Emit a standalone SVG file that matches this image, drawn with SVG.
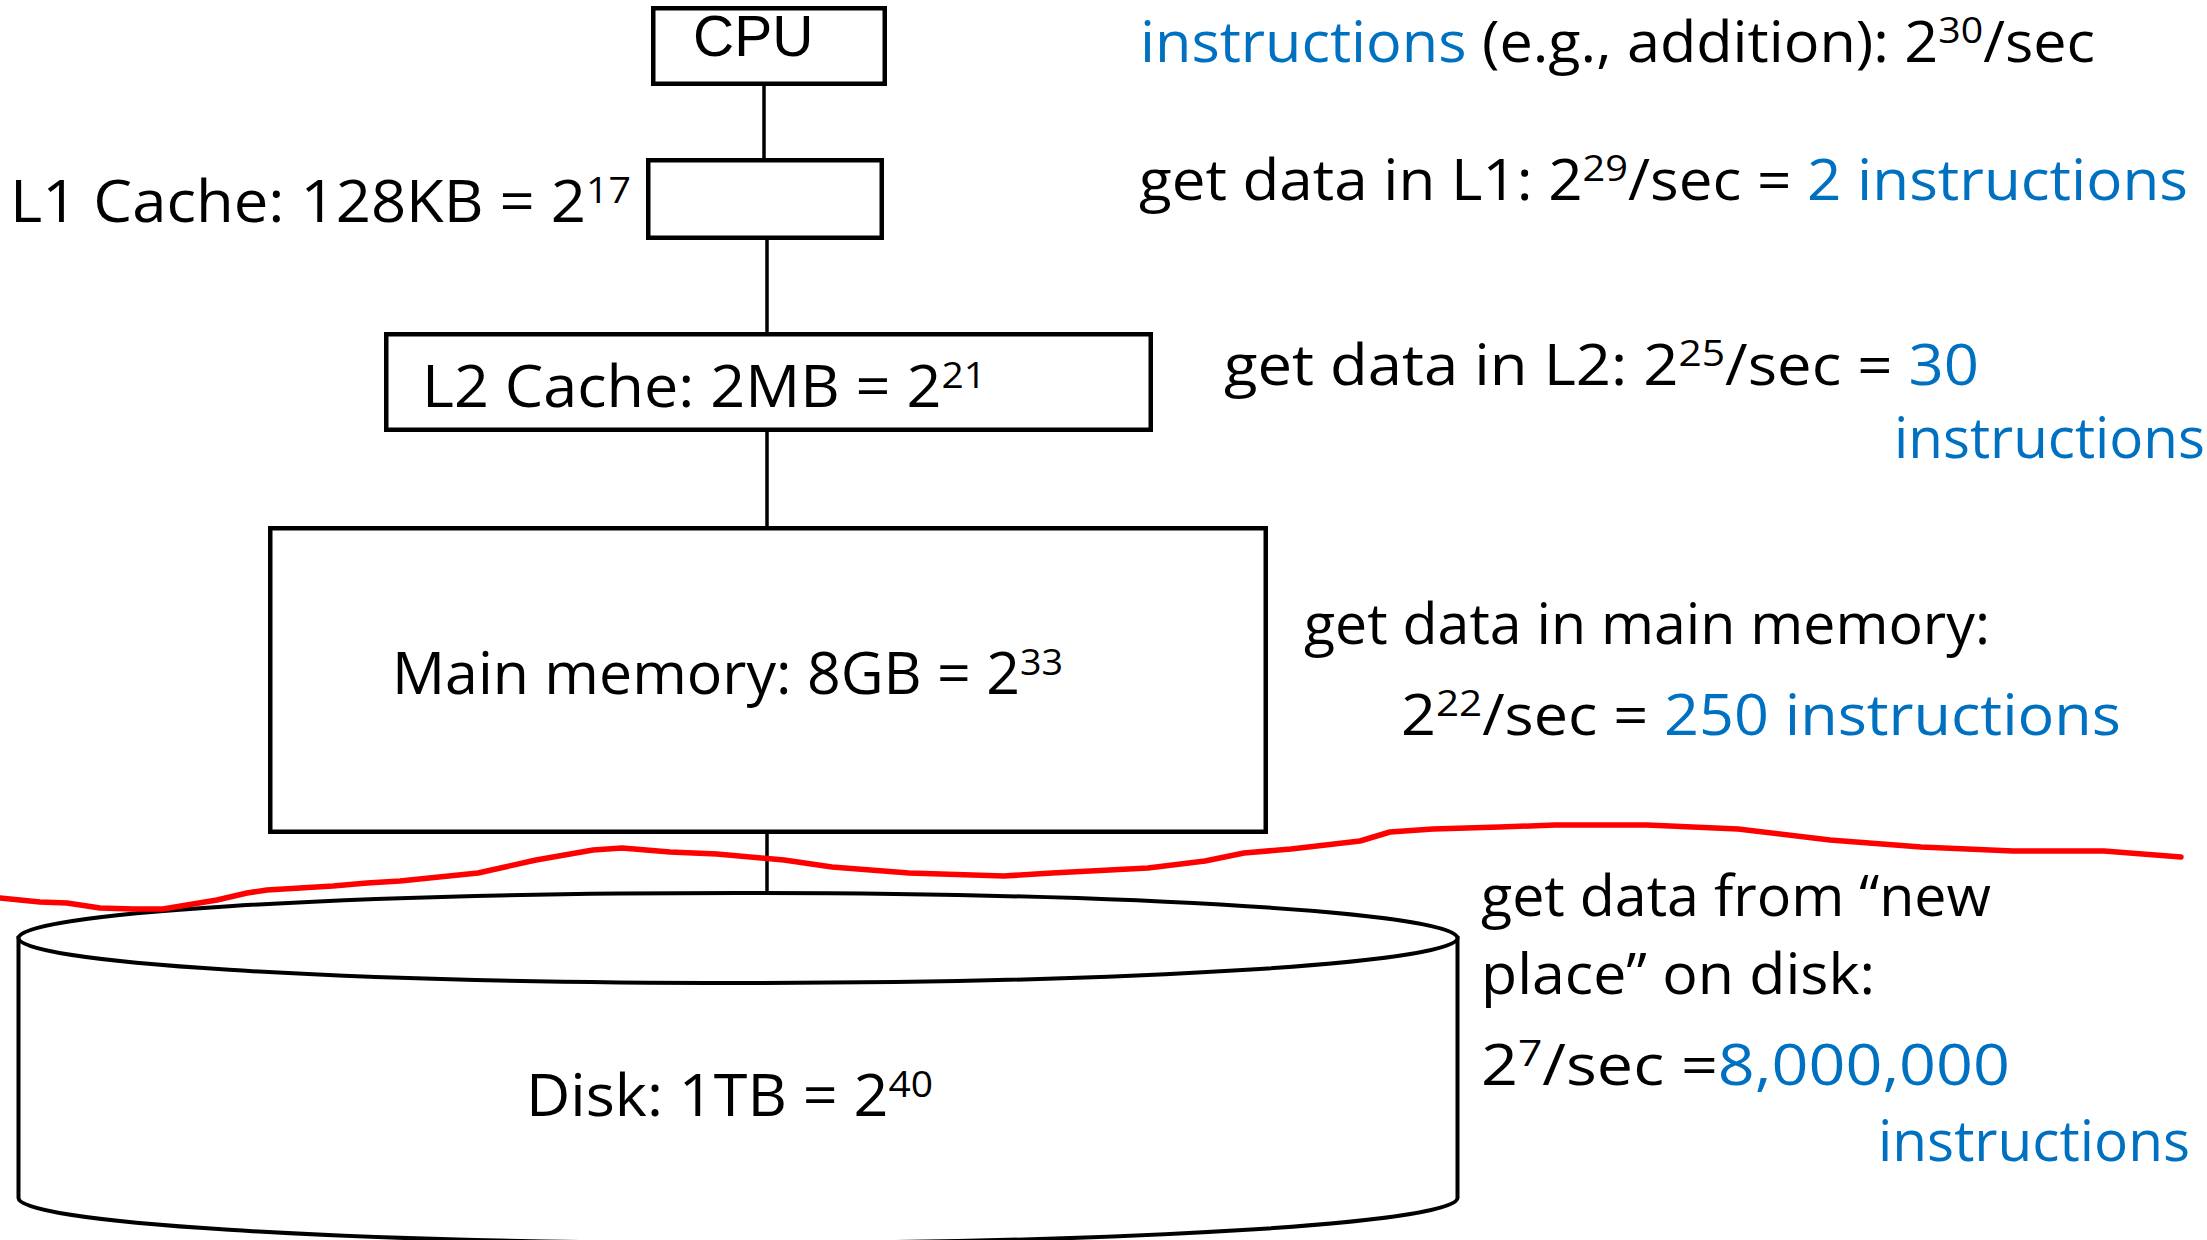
<svg xmlns="http://www.w3.org/2000/svg" width="2207" height="1240" viewBox="0 0 2207 1240">
<style>
.box{fill:#fff;stroke:#000;stroke-width:4.5}
.cyl{fill:#fff;stroke:#000;stroke-width:4}
.conn{stroke:#000;stroke-width:3.5;fill:none}
.t{font-family:"Open Sans","Liberation Sans",sans-serif;fill:#000}
.r{font-size:56px}
.l{font-size:58px}
.b{fill:#0070C0}
.sup{font-size:37px}
.cpu{font-family:"Liberation Sans",Arial,sans-serif;font-size:57px;fill:#000}
.red{fill:none;stroke:#FF0000;stroke-width:5.5;stroke-linejoin:round;stroke-linecap:round}
</style>
<rect width="2207" height="1240" fill="#fff"/>

<g id="connectors">
<line class="conn" x1="764" y1="86" x2="764" y2="160"/>
<line class="conn" x1="767" y1="240" x2="767" y2="334"/>
<line class="conn" x1="767" y1="430" x2="767" y2="528"/>
<line class="conn" x1="767" y1="832" x2="767" y2="893"/>
</g>

<g id="node-cpu">
<rect class="box" x="653.25" y="8.25" width="231.5" height="75.5"/>
<text class="cpu" x="693" y="56">CPU</text>
</g>

<g id="node-l1">
<rect class="box" x="648.25" y="160.25" width="233.5" height="77.5"/>
<text class="t l" x="10" y="222" textLength="621" lengthAdjust="spacingAndGlyphs">L1 Cache: 128KB = 2<tspan class="sup" dy="-19">17</tspan></text>
</g>

<g id="node-l2">
<rect class="box" x="386.25" y="334.25" width="764.5" height="95.5"/>
<text class="t l" x="422" y="407" textLength="564" lengthAdjust="spacingAndGlyphs">L2 Cache: 2MB = 2<tspan class="sup" dy="-19">21</tspan></text>
</g>

<g id="node-main">
<rect class="box" x="270.25" y="528.25" width="995.5" height="303.5"/>
<text class="t l" x="392" y="694" textLength="671" lengthAdjust="spacingAndGlyphs">Main memory: 8GB = 2<tspan class="sup" dy="-19">33</tspan></text>
</g>

<g id="node-disk">
<path class="cyl" d="M18.5,938 L18.5,1198 A719.5,45 0 0 0 1457.5,1198 L1457.5,938 Z"/>
<ellipse class="cyl" cx="738" cy="938" rx="719.5" ry="45"/>
<text class="t l" x="526" y="1116" textLength="407" lengthAdjust="spacingAndGlyphs">Disk: 1TB = 2<tspan class="sup" dy="-19">40</tspan></text>
</g>

<g id="red-line">
<polyline class="red" points="0,898 20,900 40,902 67,903 100,908 133,909 163,909 187,905 217,900 247,893 267,890 300,888 333,886 367,883 400,881 478,873 536,860 593,850 622,848 670,852 717,854 784,860 832,867 909,873 1004,876 1052,873 1148,868 1205,861 1244,853 1291,849 1360,841 1390,832 1433,829 1500,827 1555,825 1647,825 1738,829 1830,840 1921,847 2013,851 2104,851 2181,857"/>
</g>

<g id="annotations">
<text class="t r" x="1140" y="62" textLength="955" lengthAdjust="spacingAndGlyphs"><tspan class="b">instructions</tspan> (e.g., addition): 2<tspan class="sup" dy="-19">30</tspan><tspan dy="19">/sec</tspan></text>
<text class="t r" x="1139" y="200" textLength="1049" lengthAdjust="spacingAndGlyphs">get data in L1: 2<tspan class="sup" dy="-19">29</tspan><tspan dy="19">/sec = </tspan><tspan class="b">2 instructions</tspan></text>
<text class="t r" x="1224" y="385" textLength="755" lengthAdjust="spacingAndGlyphs">get data in L2: 2<tspan class="sup" dy="-19">25</tspan><tspan dy="19">/sec = </tspan><tspan class="b">30</tspan></text>
<text class="t r b" x="1894" y="458" textLength="311" lengthAdjust="spacingAndGlyphs">instructions</text>
<text class="t r" x="1304" y="644" textLength="686" lengthAdjust="spacingAndGlyphs">get data in main memory:</text>
<text class="t r" x="1401" y="735" textLength="720" lengthAdjust="spacingAndGlyphs">2<tspan class="sup" dy="-19">22</tspan><tspan dy="19">/sec = </tspan><tspan class="b">250 instructions</tspan></text>
<text class="t r" x="1481" y="916" textLength="510" lengthAdjust="spacingAndGlyphs">get data from “new</text>
<text class="t r" x="1481" y="994" textLength="394" lengthAdjust="spacingAndGlyphs">place” on disk:</text>
<text class="t r" x="1481" y="1085" textLength="529" lengthAdjust="spacingAndGlyphs">2<tspan class="sup" dy="-19">7</tspan><tspan dy="19">/sec =</tspan><tspan class="b">8,000,000</tspan></text>
<text class="t r b" x="1878" y="1161" textLength="312" lengthAdjust="spacingAndGlyphs">instructions</text>
</g>
</svg>
